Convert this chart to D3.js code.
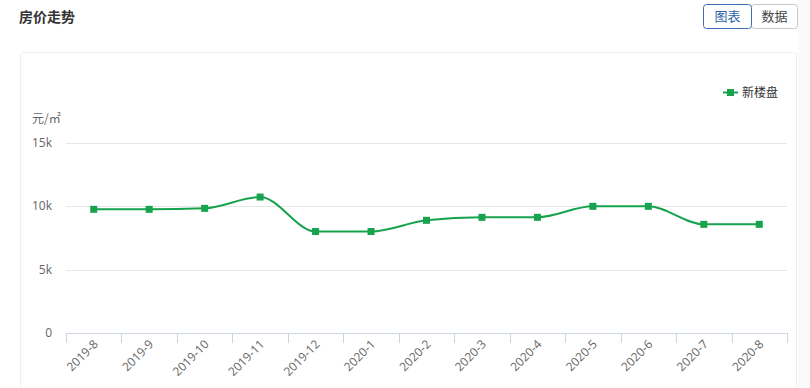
<!DOCTYPE html>
<html lang="zh">
<head>
<meta charset="utf-8">
<title>房价走势</title>
<script src="https://cdn.jsdelivr.net/npm/d3@7"></script>
<style>
  body { margin: 0; background: #fff; font-family: "Noto Sans CJK SC", "Open Sans", sans-serif; }
  svg { display: block; }
</style>
</head>
<body>
<script>
  var w = 810;
  var h = 388;

  // data
  var months = ["2019-8", "2019-9", "2019-10", "2019-11", "2019-12", "2020-1", "2020-2",
                "2020-3", "2020-4", "2020-5", "2020-6", "2020-7", "2020-8"];
  var prices = [9763, 9763, 9842, 10734, 8011, 8011, 8895, 9132, 9132, 10000, 10000, 8579, 8579];
  var yTicks = [0, 5000, 10000, 15000];
  var yTickLabels = ["0", "5k", "10k", "15k"];
  var seriesName = "新楼盘";

  var green = "#17a34e";

  var svg = d3.select("body").append("svg")
              .attr("width", w)
              .attr("height", h);

  // right grey strip
  svg.append("rect")
     .attr("x", 798).attr("y", 0).attr("width", 12).attr("height", h)
     .attr("fill", "#fafafa");

  // title
  svg.append("text")
     .attr("x", 19).attr("y", 22)
     .attr("font-size", 14).attr("font-weight", "bold")
     .attr("fill", "#333")
     .text("房价走势");

  // buttons
  var btns = svg.append("g").attr("class", "buttons");
  btns.append("rect")
      .attr("x", 751.5).attr("y", 4.5).attr("width", 46).attr("height", 24).attr("rx", 3)
      .attr("fill", "#fff").attr("stroke", "#c8c8c8");
  btns.append("rect")
      .attr("x", 703.5).attr("y", 4.5).attr("width", 48).attr("height", 24).attr("rx", 3)
      .attr("fill", "#fff").attr("stroke", "#3b6fb0");
  btns.append("text")
      .attr("x", 727.5).attr("y", 21).attr("text-anchor", "middle")
      .attr("font-size", 13).attr("fill", "#2f64a8").text("图表");
  btns.append("text")
      .attr("x", 774.5).attr("y", 21).attr("text-anchor", "middle")
      .attr("font-size", 13).attr("fill", "#444").text("数据");

  // card
  svg.append("rect")
     .attr("x", 20.5).attr("y", 52.5).attr("width", 776).attr("height", 360)
     .attr("rx", 3)
     .attr("fill", "#fff").attr("stroke", "#efefef");

  var x = d3.scaleBand()
            .domain(months)
            .range([66, 787]);

  var y = d3.scaleLinear()
            .domain([0, 15000])
            .range([333, 143]);

  // grid lines
  svg.append("g").selectAll("line")
     .data(yTicks.filter(function(d) { return d > 0; }))
     .enter().append("line")
     .attr("x1", 66).attr("x2", 787)
     .attr("y1", function(d) { return Math.round(y(d)) + 0.5; })
     .attr("y2", function(d) { return Math.round(y(d)) + 0.5; })
     .attr("stroke", "#e6e6e6");

  // y labels
  svg.append("g").selectAll("text")
     .data(yTicks)
     .enter().append("text")
     .attr("x", 52)
     .attr("y", function(d) { return y(d) + 4; })
     .attr("text-anchor", "end")
     .attr("font-family", "'Open Sans', sans-serif")
     .attr("font-size", 12)
     .attr("fill", "#666")
     .text(function(d, i) { return yTickLabels[i]; });

  svg.append("text")
     .attr("x", 32).attr("y", 123)
     .attr("font-size", 12).attr("fill", "#666")
     .text("元/㎡");

  // x axis
  var xAxis = svg.append("g");
  xAxis.append("line")
       .attr("x1", 66).attr("x2", 787)
       .attr("y1", 333.5).attr("y2", 333.5)
       .attr("stroke", "#ccd6e0");
  var bounds = months.map(function(m) { return x(m); }).concat([x.range()[1]]);
  xAxis.selectAll("line.tick")
       .data(bounds)
       .enter().append("line")
       .attr("class", "tick")
       .attr("x1", function(d) { return Math.round(d) + 0.5; })
       .attr("x2", function(d) { return Math.round(d) + 0.5; })
       .attr("y1", 333).attr("y2", 343)
       .attr("stroke", "#ccd6e0");
  xAxis.selectAll("text")
       .data(months)
       .enter().append("text")
       .attr("transform", function(d) {
         return "translate(" + (x(d) + x.bandwidth() / 2 + 5) + ",345) rotate(-45)";
       })
       .attr("text-anchor", "end")
       .attr("font-family", "'Open Sans', sans-serif")
       .attr("font-size", 12)
       .attr("fill", "#666")
       .text(function(d) { return d; });

  // line
  var line = d3.line()
               .x(function(d, i) { return x(months[i]) + x.bandwidth() / 2; })
               .y(function(d) { return y(d); })
               .curve(d3.curveMonotoneX);

  svg.append("path")
     .datum(prices)
     .attr("d", line)
     .attr("fill", "none")
     .attr("stroke", green)
     .attr("stroke-width", 2);

  svg.append("g").selectAll("rect")
     .data(prices)
     .enter().append("rect")
     .attr("x", function(d, i) { return x(months[i]) + x.bandwidth() / 2 - 3.5; })
     .attr("y", function(d) { return y(d) - 3.5; })
     .attr("width", 7).attr("height", 7)
     .attr("fill", green);

  // legend
  var legend = svg.append("g");
  legend.append("line")
        .attr("x1", 723).attr("x2", 738).attr("y1", 92.5).attr("y2", 92.5)
        .attr("stroke", green).attr("stroke-width", 2);
  legend.append("rect")
        .attr("x", 727).attr("y", 89).attr("width", 7).attr("height", 7)
        .attr("fill", green);
  legend.append("text")
        .attr("x", 742).attr("y", 97)
        .attr("font-size", 12).attr("fill", "#333")
        .text(seriesName);
</script>
</body>
</html>
